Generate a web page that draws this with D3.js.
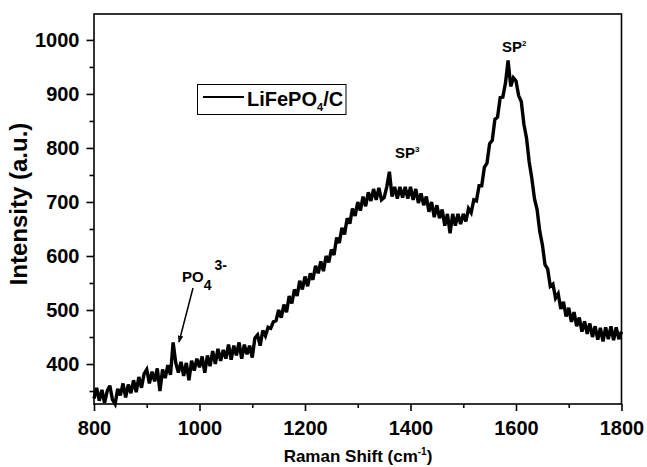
<!DOCTYPE html>
<html>
<head>
<meta charset="utf-8">
<script src="https://cdn.jsdelivr.net/npm/d3@7"></script>
<style>
  html, body { margin: 0; padding: 0; background: #fff; }
  svg { display: block; }
  text { font-family: "Liberation Sans", Arial, Helvetica, sans-serif; font-weight: bold; fill: #000; }
</style>
</head>
<body>
<svg id="chart" width="647" height="467"></svg>
<script>
// ---- data ----
const shiftStart = 800, shiftStep = 5;   // Raman shift grid, cm^-1
const intensity = [
  // 800-845
  336,356,332,352,328,350,360,334,326,354,
  // 850-895
  342,364,338,362,346,370,348,376,356,382,
  // 900-945
  390,364,386,368,392,350,390,374,398,380,
  // 950-995
  440,402,384,404,378,402,370,406,388,410,
  // 1000-1045
  394,414,384,416,396,424,400,428,406,426,
  // 1050-1095
  410,436,408,434,416,440,410,436,418,434,
  // 1100-1145
  412,448,454,434,462,452,468,466,478,480,
  // 1150-1195
  500,486,510,496,526,512,538,526,554,538,
  // 1200-1245
  562,544,568,556,582,568,590,572,600,588,
  // 1250-1295
  612,602,634,624,652,640,670,660,688,674,
  // 1300-1345
  700,684,710,692,718,702,724,704,726,704,
  // 1350-1395
  708,728,756,710,728,706,728,708,728,706,
  // 1400-1445
  728,704,724,698,716,694,710,682,700,672,
  // 1450-1495
  694,670,686,656,678,642,678,656,678,659,
  // 1500-1545
  678,664,688,680,704,702,730,730,764,772,
  // 1550-1595
  808,814,853,857,893,894,920,962,914,930,
  // 1600-1645
  924,897,886,844,818,774,744,706,686,646,
  // 1650-1695
  621,584,576,544,548,522,530,502,515,488,
  // 1700-1745
  504,478,496,470,486,460,479,456,475,450,
  // 1750-1795
  470,445,467,442,468,446,470,444,468,446,
  // 1800
  460
];
const xTickValues = [800, 1000, 1200, 1400, 1600, 1800];
const xMinorValues = [900, 1100, 1300, 1500, 1700];
const yTickValues = [400, 500, 600, 700, 800, 900, 1000];
const yMinorValues = [350, 450, 550, 650, 750, 850, 950];
const xDomain = [800, 1800];
const yDomain = [326, 1048];

// ---- layout ----
const svg = d3.select("#chart");
const L = 94, R = 621.5, T = 14, B = 404;
const x = d3.scaleLinear().domain(xDomain).range([L, R]);
const y = d3.scaleLinear().domain(yDomain).range([B, T]);

const data = intensity.map((v, i) => ({ w: shiftStart + i * shiftStep, v }));

// spectrum line
const line = d3.line().x(d => x(d.w)).y(d => y(d.v));
svg.append("path")
  .datum(data)
  .attr("d", line)
  .attr("fill", "none")
  .attr("stroke", "#000")
  .attr("stroke-width", 3.4)
  .attr("stroke-linejoin", "miter")
  .attr("stroke-miterlimit", 3);

// frame
svg.append("rect")
  .attr("x", L).attr("y", T)
  .attr("width", R - L).attr("height", B - T)
  .attr("fill", "none").attr("stroke", "#000").attr("stroke-width", 1.6);

// x axis
const gx = svg.append("g").attr("transform", `translate(0,${B})`)
  .call(d3.axisBottom(x).tickValues(xTickValues).tickSize(7).tickPadding(10).tickFormat(d3.format("d")));
const gxm = svg.append("g").attr("transform", `translate(0,${B})`)
  .call(d3.axisBottom(x).tickValues(xMinorValues).tickSize(4).tickFormat(""));
// y axis
const gy = svg.append("g").attr("transform", `translate(${L},0)`)
  .call(d3.axisLeft(y).tickValues(yTickValues).tickSize(7.5).tickPadding(7).tickFormat(d3.format("d")));
const gym = svg.append("g").attr("transform", `translate(${L},0)`)
  .call(d3.axisLeft(y).tickValues(yMinorValues).tickSize(4.5).tickFormat(""));

[gx, gxm, gy, gym].forEach(g => {
  g.select(".domain").remove();
  g.selectAll(".tick line").attr("stroke", "#000").attr("stroke-width", 1.6);
  g.selectAll("text")
    .attr("font-size", 20)
    .attr("font-family", '"Liberation Sans", Arial, sans-serif')
    .attr("font-weight", "bold")
    .attr("fill", "#000");
});

// axis titles
svg.append("text")
  .attr("transform", "translate(27,204) rotate(-90)")
  .attr("text-anchor", "middle")
  .attr("font-size", 24)
  .text("Intensity (a.u.)");

const xt = svg.append("text")
  .attr("x", 358).attr("y", 462)
  .attr("text-anchor", "middle")
  .attr("font-size", 17);
xt.append("tspan").text("Raman Shift (cm");
xt.append("tspan").attr("font-size", 10).attr("dy", -7).text("-1");
xt.append("tspan").attr("dy", 7).text(")");

// legend
svg.append("rect")
  .attr("x", 197.5).attr("y", 84.5).attr("width", 148.5).attr("height", 30)
  .attr("fill", "#fff").attr("stroke", "#000").attr("stroke-width", 1);
svg.append("line")
  .attr("x1", 203).attr("x2", 244).attr("y1", 97).attr("y2", 97)
  .attr("stroke", "#000").attr("stroke-width", 2);
const lt = svg.append("text").attr("x", 247).attr("y", 106).attr("font-size", 20);
lt.append("tspan").text("LiFePO");
lt.append("tspan").attr("font-size", 11).attr("dy", 5).text("4");
lt.append("tspan").attr("dy", -5).text("/C");

// peak annotations
function spLabel(xp, yp, sup) {
  const t = svg.append("text").attr("x", xp).attr("y", yp).attr("font-size", 15);
  t.append("tspan").text("SP");
  t.append("tspan").attr("font-size", 8).attr("dy", -6).text(sup);
}
spLabel(395, 158, "3");
spLabel(502, 52, "2");

const po = svg.append("text").attr("x", 182).attr("y", 282).attr("font-size", 15);
po.append("tspan").text("PO");
po.append("tspan").attr("font-size", 14).attr("dy", 8).text("4");
po.append("tspan").attr("font-size", 14).attr("dy", -20).attr("dx", 3).text("3-");

// arrow to PO4 peak
svg.append("defs").append("marker")
  .attr("id", "ah").attr("viewBox", "0 0 10 10")
  .attr("refX", 9).attr("refY", 5)
  .attr("markerWidth", 7).attr("markerHeight", 7)
  .attr("markerUnits", "userSpaceOnUse")
  .attr("orient", "auto")
  .append("path").attr("d", "M0,1 L10,5 L0,9 Z").attr("fill", "#000");
svg.append("line")
  .attr("x1", 193).attr("y1", 288).attr("x2", 179).attr("y2", 342)
  .attr("stroke", "#000").attr("stroke-width", 1.5)
  .attr("marker-end", "url(#ah)");
</script>
</body>
</html>
